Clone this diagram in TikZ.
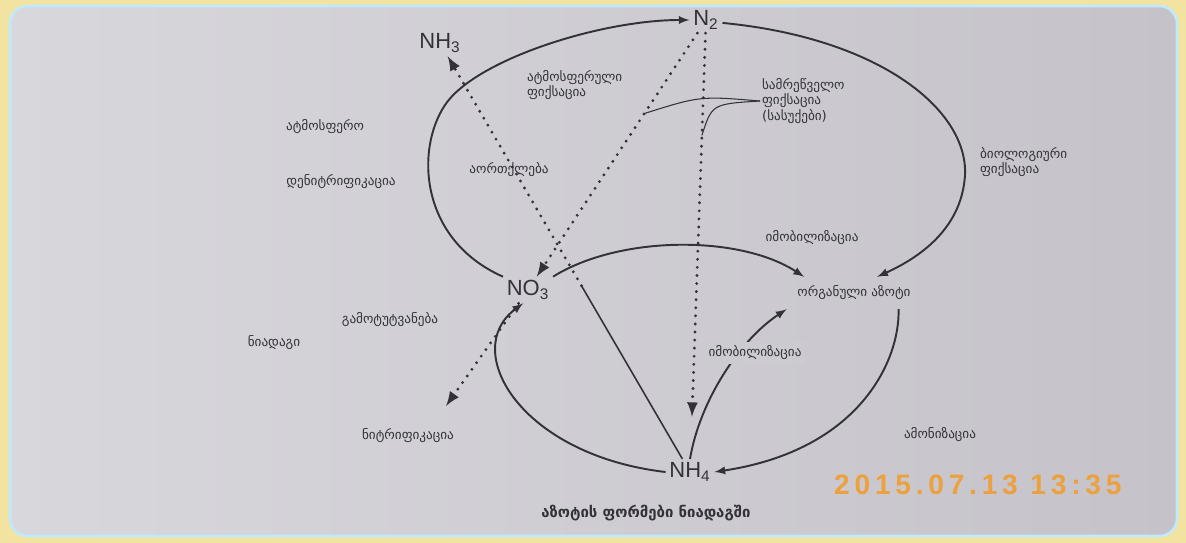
\documentclass[tikz,border=0pt]{standalone}
\usepackage{fontspec}
\setmainfont{DejaVu Sans}
\newfontfamily\chemfont{Liberation Sans}
\newfontfamily\stampfont[LetterSpace=17]{Liberation Sans}
\usepackage{tikz}
\usetikzlibrary{arrows}
\definecolor{frame}{RGB}{243,227,160}
\definecolor{paperl}{RGB}{216,215,220}
\definecolor{paperr}{RGB}{197,195,201}
\definecolor{paperm}{RGB}{204,203,208}
\definecolor{ink}{RGB}{50,50,55}
\definecolor{stamp}{RGB}{236,160,62}

\begin{document}
\begin{tikzpicture}%
        [x={(0.02cm, 0cm)},
        y={(0cm, -0.02cm)},
        flow/.style={color=ink, line width=1.1pt, -latex},
        fixline/.style={color=ink, line width=1.8pt, dash pattern=on 0pt off 4.6pt, line cap=round},
        lead/.style={color=ink, line width=0.6pt},
        chem/.style={color=ink, font=\chemfont\fontsize{12.5}{14}\selectfont, inner sep=2pt},
        lbl/.style={color=ink, font=\fontsize{7.5}{9}\selectfont, inner sep=1pt, align=left}]
    %
    %% Drawing the page
    \useasboundingbox (0,0) rectangle (1186,543);
    \fill[frame] (0,0) rectangle (1186,543);
    \shade[left color=paperl, right color=paperr, rounded corners=10pt] (10,6) rectangle (1177,536);
    \draw[white!75!cyan, line width=1.5pt, rounded corners=10pt] (10,6) rectangle (1177,536);
    %%
    %% The forms of nitrogen
    \node[chem] (n2) at (706,20) {N\textsubscript{2}};
    \node[chem] (nh3) at (440,43) {NH\textsubscript{3}};
    \node[chem] (no3) at (528,290) {NO\textsubscript{3}};
    \node[chem] (nh4) at (690,472) {NH\textsubscript{4}};
    \node[lbl, inner xsep=6pt, inner ysep=5pt] (org) at (854,293) {ორგანული აზოტი};
    %%
    %% Drawing the cycle
    \draw[flow] (no3.north west) .. controls (420,240) and (415,150) .. (445,105)
                .. controls (475,60) and (600,20) .. (n2.west);
    \draw[flow] (n2.-10) .. controls (880,38) and (968,110) .. (965,175)
                .. controls (962,225) and (925,255) .. (org.35);
    \draw[flow] (no3.north east) .. controls (620,235) and (740,235) .. (org.162);
    \draw[flow] (nh4.north) .. controls (700,400) and (740,340) .. (org.south west);
    \draw[flow] (org.-20) .. controls (900,360) and (860,450) .. (nh4.east);
    \draw[flow] (nh4.west) .. controls (520,455) and (460,350) .. (no3.-110);
    %%
    %% Dotted paths
    \coordinate (leach) at (446,406);
    \path (nh4) -- (nh3) coordinate[pos=0.43] (volmid);
    \draw[fixline, -latex] (n2) -- (no3) coordinate[pos=0.33] (inda);
    \draw[fixline, -latex, shorten >=24pt] (n2) -- (nh4) coordinate[pos=0.24] (indb);
    \draw[fixline, -latex] (volmid) -- (nh3);
    \draw[color=ink, line width=0.9pt] (nh4) -- (volmid);
    \draw[fixline, -latex] (no3) -- (leach);
    %%
    %% Labels
    \node[lbl, anchor=west] (ind) at (760,101) {სამრეწველო\\ფიქსაცია\\(სასუქები)};
    \draw[lead] (ind.west) .. controls (700,96) .. (inda);
    \draw[lead] (ind.west) .. controls (712,104) .. (indb);
    \node[lbl, anchor=west] (atfix) at (525,85) {ატმოსფერული\\ფიქსაცია};
    \node[lbl] (atm) at (325,127) {ატმოსფერო};
    \node[lbl] (denit) at (341,182) {დენიტრიფიკაცია};
    \node[lbl] (evap) at (509,170) {აორთქლება};
    \node[lbl, anchor=west] (biofix) at (978,162) {ბიოლოგიური\\ფიქსაცია};
    \node[lbl] (immob) at (812,238) {იმობილიზაცია};
    \node[lbl] (leachlbl) at (390,320) {გამოტუტვანება};
    \node[lbl] (soil) at (274,343) {ნიადაგი};
    \node[lbl, fill=paperm, inner sep=2pt] (immobb) at (755,353) {იმობილიზაცია};
    \node[lbl] (nitr) at (408,436) {ნიტრიფიკაცია};
    \node[lbl] (ammon) at (940,435) {ამონიზაცია};
    \node[color=ink, font=\bfseries\fontsize{8.5}{10}\selectfont] (title) at (646,513) {აზოტის ფორმები ნიადაგში};
    \node[color=stamp, font=\stampfont\bfseries\fontsize{16}{18}\selectfont, anchor=west] (date) at (828,485) {2015.07.13 13:35};
    %%
    \end{tikzpicture}
\end{document}
